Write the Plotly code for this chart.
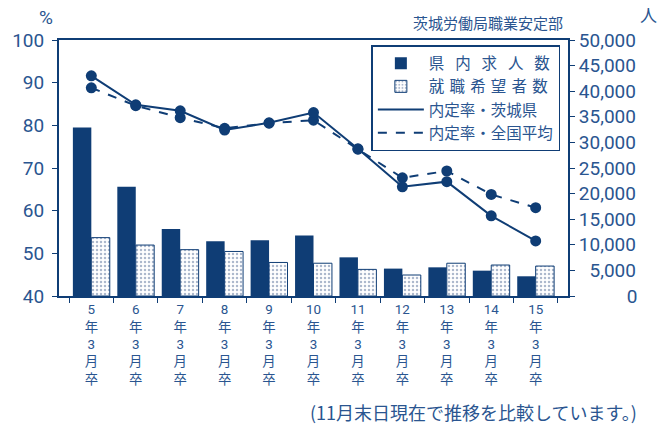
import plotly.graph_objects as go

years = ["5", "6", "7", "8", "9", "10", "11", "12", "13", "14", "15"]
tick_labels = [f"{y}<br>年<br>3<br>月<br>卒" for y in years]
openings = [32900, 21350, 13100, 10700, 10900, 11800, 7550, 5350, 5600, 4950, 3850]   # 県内求人数
applicants = [11400, 9950, 9050, 8700, 6550, 6400, 5200, 4100, 6400, 6050, 5850]      # 就職希望者数
rate_ibaraki = [91.6, 84.8, 83.4, 78.9, 80.6, 83.0, 74.5, 65.6, 66.8, 58.8, 52.9]      # 内定率・茨城県
rate_national = [88.8, 84.6, 81.8, 79.3, 80.5, 81.2, 74.4, 67.7, 69.3, 63.8, 60.7]     # 内定率・全国平均
right_ticks = [0, 5000, 10000, 15000, 20000, 25000, 30000, 35000, 40000, 45000, 50000]
right_text = ["\u2007\u2007\u2008\u2007\u20070", "\u20075,000", "10,000", "15,000",
              "20,000", "25,000", "30,000", "35,000", "40,000", "45,000", "50,000"]

NAVY = "#0f3d75"
TEXT = "#2a5590"
FONT = "Roboto, Noto Sans CJK JP, sans-serif"
JP = "Noto Sans CJK JP, sans-serif"

fig = go.Figure()
fig.add_trace(go.Bar(x=tick_labels, y=openings, yaxis="y2",
                     name="県\u2002\u2009内\u2002\u2009求\u2002\u2009人\u2002\u2009数",
                     marker=dict(color=NAVY, line=dict(width=0))))
fig.add_trace(go.Bar(x=tick_labels, y=applicants, yaxis="y2",
                     name="就\u2004職\u2004希\u2004望\u2004者\u2004数",
                     marker=dict(color="white", line=dict(color=NAVY, width=1),
                                 pattern=dict(shape=".", fgcolor="#5a729a", bgcolor="white",
                                              size=4, solidity=0.3))))
fig.add_trace(go.Scatter(x=tick_labels, y=rate_ibaraki, yaxis="y", mode="lines",
                         name="内定率・茨城県", line=dict(color=NAVY, width=2)))
fig.add_trace(go.Scatter(x=tick_labels, y=rate_national, yaxis="y", mode="lines",
                         name="内定率・全国平均", line=dict(color=NAVY, width=2, dash="dash")))
fig.add_trace(go.Scatter(x=tick_labels, y=rate_national, yaxis="y", mode="markers",
                         showlegend=False, marker=dict(color=NAVY, size=11)))
fig.add_trace(go.Scatter(x=tick_labels, y=rate_ibaraki, yaxis="y", mode="markers",
                         showlegend=False, marker=dict(color=NAVY, size=11)))

fig.update_layout(
    width=666, height=432,
    margin=dict(l=51, r=98, t=40, b=136),
    paper_bgcolor="white", plot_bgcolor="white",
    barmode="group", bargap=0.17, bargroupgap=0,
    font=dict(family=FONT, color=TEXT, size=19),
    showlegend=True,
    legend=dict(x=0.985, y=0.98, xanchor="right", yanchor="top",
                bordercolor=NAVY, borderwidth=1.5, bgcolor="white",
                font=dict(family=JP, size=15.5, color=TEXT),
                traceorder="normal", itemwidth=46, tracegroupgap=0),
    xaxis=dict(type="category", showline=True, linecolor=NAVY, linewidth=2, mirror=True,
               ticks="outside", tickson="boundaries", ticklen=5, tickcolor=NAVY,
               tickfont=dict(family=FONT, size=13.4, color=TEXT), showgrid=False),
    yaxis=dict(range=[40, 100], dtick=10, showline=True, linecolor=NAVY, linewidth=2,
               ticks="outside", ticklen=5, tickcolor=NAVY, showgrid=False, zeroline=False,
               ticklabelstandoff=4,
               tickfont=dict(family=FONT, size=19, color=TEXT)),
    yaxis2=dict(range=[0, 50000], overlaying="y", side="right", showline=True,
                linecolor=NAVY, linewidth=2, ticks="outside", ticklen=5, tickcolor=NAVY,
                tickvals=right_ticks, ticktext=right_text, showgrid=False, zeroline=False,
                tickfont=dict(family=FONT, size=19, color=TEXT)),
    yaxis3=dict(range=[40, 100], dtick=10, overlaying="y", side="left", showline=False,
                ticks="inside", ticklen=5, tickcolor=NAVY, showticklabels=False,
                showgrid=False, zeroline=False),
    yaxis4=dict(range=[0, 50000], dtick=5000, overlaying="y", side="right", showline=False,
                ticks="inside", ticklen=5, tickcolor=NAVY, showticklabels=False,
                showgrid=False, zeroline=False),
)

fig.add_annotation(text="%", x=-0.025, y=1.086, xref="paper", yref="paper",
                   xanchor="center", yanchor="middle",
                   showarrow=False, font=dict(family=FONT, size=19, color=TEXT))
fig.add_annotation(text="茨城労働局職業安定部", x=0.994, y=1.07, xref="paper", yref="paper",
                   xanchor="right", yanchor="middle",
                   showarrow=False, font=dict(family=JP, size=15, color=TEXT))
fig.add_annotation(text="人", x=1.159, y=1.098, xref="paper", yref="paper",
                   xanchor="center", yanchor="middle",
                   showarrow=False, font=dict(family=JP, size=17, color=TEXT))
fig.add_annotation(text="(11月末日現在で推移を比較しています。)", x=1.139, y=-0.453,
                   xref="paper", yref="paper", xanchor="right", yanchor="middle",
                   showarrow=False, font=dict(family=JP, size=18, color=TEXT))

fig.write_html("out.html")
